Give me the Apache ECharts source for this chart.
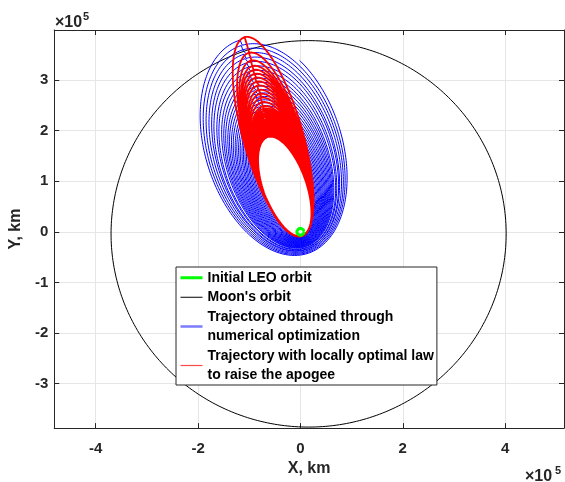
<!DOCTYPE html>
<html><head><meta charset="utf-8">
<script src="https://cdn.jsdelivr.net/npm/echarts@6/dist/echarts.min.js"></script>
<style>html,body{margin:0;padding:0;background:#fff}#c{width:565px;height:482px}</style>
</head><body><div id="c"></div>
<script>
// All distances in units of 1e5 km
const xTickLabels = [-4, -2, 0, 2, 4];
const yTickLabels = [-3, -2, -1, 0, 1, 2, 3];
const xRange = [-4.81, 5.15];
const yRange = [-3.88, 3.99];

// Initial LEO orbit (circle)
const leoCenter = [0, 0];
const leoRadius = 0.07;

// Moon's orbit (ellipse)
const moonCenter = [0.16, -0.04];
const moonRadii = [3.86, 3.82];

// Trajectory obtained through numerical optimization: per revolution apogee / perigee radius, apogee direction (deg)
const blueApogee = [1.98, 2.03, 2.08, 2.13, 2.18, 2.23, 2.28, 2.33, 2.38, 2.43, 2.48, 2.54, 2.60, 2.66, 2.72,
  2.79, 2.86, 2.93, 3.00, 3.08, 3.16, 3.24, 3.32, 3.41, 3.50, 3.59, 3.68, 3.77, 3.86, 3.97];
const bluePerigee = [0.10, 0.11, 0.12, 0.13, 0.14, 0.15, 0.16, 0.17, 0.18, 0.19, 0.20, 0.21, 0.22, 0.23, 0.24,
  0.25, 0.26, 0.27, 0.28, 0.29, 0.30, 0.31, 0.33, 0.34, 0.36, 0.37, 0.39, 0.41, 0.43, 0.45];
const blueApoAngle = [108.6, 108.6, 108.5, 108.5, 108.4, 108.4, 108.3, 108.3, 108.2, 108.2, 108.1, 108.1, 108.0, 108.0, 107.9,
  107.9, 107.8, 107.8, 107.7, 107.7, 107.6, 107.6, 107.6, 107.5, 107.5, 107.5, 107.4, 107.4, 107.4, 107.3];
const blueEndAnomaly = 163; // true anomaly (deg) where the last revolution stops

// Trajectory with locally optimal law to raise the apogee
const redApogee = [1.98, 2.00, 2.02, 2.04, 2.06, 2.08, 2.10, 2.12, 2.14, 2.16, 2.18, 2.20, 2.22, 2.24, 2.26, 2.28,
  2.30, 2.32, 2.35, 2.38, 2.41, 2.44, 2.47, 2.50, 2.54, 2.59, 2.67, 2.76, 2.84, 2.92, 3.01, 3.09, 3.17, 3.25,
  3.33, 3.41, 3.52, 3.68, 4.00];
const redPerigee = [0.09, 0.09, 0.09, 0.09, 0.09, 0.09, 0.09, 0.09, 0.09, 0.09, 0.09, 0.09, 0.09, 0.09, 0.09, 0.09,
  0.09, 0.09, 0.09, 0.09, 0.09, 0.09, 0.09, 0.09, 0.09, 0.09, 0.09, 0.085, 0.085, 0.085, 0.085, 0.085, 0.085, 0.085,
  0.085, 0.085, 0.085, 0.085, 0.085];
const redApoAngle = [108.9, 108.8, 108.7, 108.6, 108.5, 108.4, 108.3, 108.2, 108.1, 108.0, 107.9, 107.8, 107.7, 107.6,
  107.5, 107.4, 107.3, 107.2, 107.1, 107.0, 106.9, 106.8, 106.7, 106.6, 106.6, 106.5, 106.5, 106.4, 106.4, 106.3,
  106.3, 106.2, 106.2, 106.1, 106.1, 106.0, 106.0, 105.9, 105.8];
const redEndAnomaly = 188;

const seriesNames = ['Initial LEO orbit', "Moon's orbit",
  'Trajectory obtained through\nnumerical optimization',
  'Trajectory with locally optimal law\nto raise the apogee'];

function ellipsePts(c, rx, ry, n) {
  const out = [];
  for (let i = 0; i <= n; i++) {
    const t = 2 * Math.PI * i / n;
    out.push([c[0] + rx * Math.cos(t), c[1] + ry * Math.sin(t)]);
  }
  return out;
}
function keplerArc(ra, rp, apoDeg, nuFrom, nuTo, n, out) {
  const a = (ra + rp) / 2, e = (ra - rp) / (ra + rp), b = Math.sqrt(ra * rp);
  const w = (apoDeg - 180) * Math.PI / 180;
  const toE = nu => { const h = nu * Math.PI / 360; return 2 * Math.atan2(Math.sqrt(1 - e) * Math.sin(h), Math.sqrt(1 + e) * Math.cos(h)); };
  const E0 = toE(nuFrom), E1 = toE(nuTo);
  const cw = Math.cos(w), sw = Math.sin(w);
  for (let i = 0; i <= n; i++) {
    const E = E0 + (E1 - E0) * i / n;
    const xp = a * (Math.cos(E) - e), yp = b * Math.sin(E);
    out.push([xp * cw - yp * sw, xp * sw + yp * cw]);
  }
}
function trajectory(apo, peri, ang, endNu) {
  const out = [];
  for (let k = 0; k < apo.length; k++) {
    const last = k === apo.length - 1;
    keplerArc(apo[k], peri[k], ang[k], -180, last ? endNu : 180, 400, out);
  }
  return out;
}

const FONT = "'Liberation Sans', Arial, sans-serif";
const AX = '#262626';
const chart = echarts.init(document.getElementById('c'), null, {renderer: 'canvas'});

function xAxisCfg(pos, main) {
  return {
    type: 'value', position: pos, min: xRange[0], max: xRange[1], splitNumber: 5,
    axisLine: {show: true, onZero: false, lineStyle: {color: AX, width: 1}},
    axisTick: {show: true, inside: true, length: 5, lineStyle: {color: AX}},
    axisLabel: {show: main, margin: 13, fontSize: 15, fontWeight: 'bold', fontFamily: FONT, color: AX,
      showMinLabel: false, showMaxLabel: false,
      formatter: v => (xTickLabels.some(t => Math.abs(t - v) < 1e-6) ? String(Math.round(v)) : '')},
    splitLine: {show: main, lineStyle: {color: '#e6e6e6', width: 1}},
    name: main ? 'X, km' : '', nameLocation: 'middle', nameGap: 19,
    nameTextStyle: {fontSize: 16, fontWeight: 'bold', fontFamily: FONT, color: AX}
  };
}
function yAxisCfg(pos, main) {
  return {
    type: 'value', position: pos, min: yRange[0], max: yRange[1], splitNumber: 8,
    axisLine: {show: true, onZero: false, lineStyle: {color: AX, width: 1}},
    axisTick: {show: true, inside: true, length: 5, lineStyle: {color: AX}},
    axisLabel: {show: main, margin: 6, fontSize: 15, fontWeight: 'bold', fontFamily: FONT, color: AX,
      showMinLabel: false, showMaxLabel: false,
      formatter: v => (yTickLabels.some(t => Math.abs(t - v) < 1e-6) ? String(Math.round(v)) : '')},
    splitLine: {show: main, lineStyle: {color: '#e6e6e6', width: 1}},
    name: main ? 'Y, km' : '', nameLocation: 'middle', nameGap: 16, nameRotate: 90,
    nameTextStyle: {fontSize: 16, fontWeight: 'bold', fontFamily: FONT, color: AX}
  };
}

const exTxt = {fontSize: 16, fontFamily: FONT, fontWeight: 'bold', fill: AX};
const supTxt = {fontSize: 11, fontFamily: FONT, fontWeight: 'bold', fill: AX};

chart.setOption({
  animation: false,
  backgroundColor: '#fff',
  grid: {left: 53, right: 1, top: 30, bottom: 49, containLabel: false},
  xAxis: [xAxisCfg('bottom', true), xAxisCfg('top', false)],
  yAxis: [yAxisCfg('left', true), yAxisCfg('right', false)],
  legend: {
    orient: 'vertical', left: 176, top: 267,
    backgroundColor: '#fff', borderColor: AX, borderWidth: 1, borderRadius: 0,
    padding: [1, 3, 0, 3], itemGap: 0, itemWidth: 22, itemHeight: 12,
    itemStyle: {opacity: 0},
    textStyle: {fontSize: 14, fontWeight: 'bold', fontFamily: FONT, color: '#000', lineHeight: 19.5},
    data: [
      {name: seriesNames[0], lineStyle: {color: '#00ff00', width: 3}},
      {name: seriesNames[1], lineStyle: {color: '#000000', width: 1}},
      {name: seriesNames[2], lineStyle: {color: '#7b7bff', width: 2.5}},
      {name: seriesNames[3], lineStyle: {color: '#ff4a4a', width: 1.2}}
    ]
  },
  graphic: [
    {type: 'text', left: 55, top: 15, style: Object.assign({text: '×10'}, exTxt)},
    {type: 'text', left: 83, top: 11, style: Object.assign({text: '5'}, supTxt)},
    {type: 'text', left: 525, top: 469, style: Object.assign({text: '×10'}, exTxt)},
    {type: 'text', left: 555, top: 465, style: Object.assign({text: '5'}, supTxt)}
  ],
  series: [
    {name: seriesNames[0], type: 'line', z: 5, symbol: 'none', showSymbol: false, silent: true,
      lineStyle: {color: '#00ff00', width: 3}, itemStyle: {color: '#00ff00'},
      data: ellipsePts(leoCenter, leoRadius, leoRadius, 60)},
    {name: seriesNames[1], type: 'line', z: 2, symbol: 'none', showSymbol: false, silent: true,
      lineStyle: {color: '#000000', width: 1}, itemStyle: {color: '#000'},
      data: ellipsePts(moonCenter, moonRadii[0], moonRadii[1], 720)},
    {name: seriesNames[2], type: 'line', z: 3, symbol: 'none', showSymbol: false, silent: true, sampling: null,
      lineStyle: {color: '#0000ff', width: 1}, itemStyle: {color: '#0000ff'},
      data: trajectory(blueApogee, bluePerigee, blueApoAngle, blueEndAnomaly)},
    {name: seriesNames[3], type: 'line', z: 4, symbol: 'none', showSymbol: false, silent: true, sampling: null,
      lineStyle: {color: '#ff0000', width: 1.8}, itemStyle: {color: '#ff0000'},
      data: trajectory(redApogee, redPerigee, redApoAngle, redEndAnomaly)}
  ]
});
</script></body></html>
